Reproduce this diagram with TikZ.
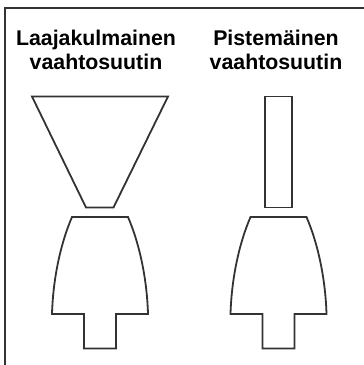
\documentclass[tikz,border=0pt]{standalone}
\usepackage{fontspec}
\setmainfont{Liberation Sans}
\begin{document}
\begin{tikzpicture}
        [x=1pt, y=-1pt, line join=miter,
         every node/.style={font=\fontsize{21.3}{23.5}\selectfont\bfseries, align=center, inner sep=0pt},
         part/.style={draw=black!80, line width=1.8pt}]
        \useasboundingbox (0,0) rectangle (364,365);
        % frame, open at right and bottom
        \draw [black!80, line width=2pt] (364,8) -- (5,8) -- (5,365);
        \node (wide) at (96,50) {Laajakulmainen\\vaahtosuutin};
        \node (point) at (276,50) {Pistemäinen\\vaahtosuutin};
        % nozzle tips
        \draw [part] (32,96.5) -- (168,96.5) -- (113.5,207.5) -- (86,207.5) -- cycle;
        \draw [part] (265,96.5) rectangle (292,207.5);
        % nozzle bodies
        \foreach \c in {100,278.5}
            \draw [part, shift={(\c,0)}]
                (-28,217) -- (28,217) .. controls (40,245) and (47,280) .. (48,314)
                -- (16,314) -- (16,348.5) -- (-16,348.5) -- (-16,314) -- (-48,314)
                .. controls (-47,280) and (-40,245) .. (-28,217) -- cycle;
    \end{tikzpicture}
\end{document}
